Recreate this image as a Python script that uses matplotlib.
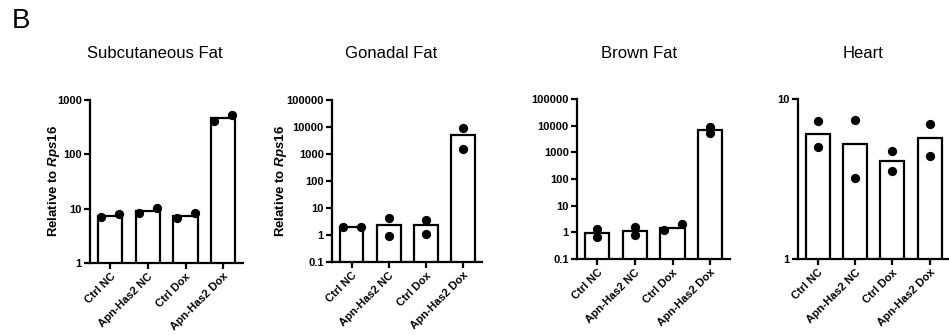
import numpy as np
import matplotlib.pyplot as plt

plt.rcParams['font.family'] = ['Liberation Sans', 'DejaVu Sans']
plt.rcParams['mathtext.fontset'] = 'custom'
plt.rcParams['mathtext.it'] = 'Liberation Sans:bold:italic'
plt.rcParams['mathtext.rm'] = 'Liberation Sans:bold'

# Data
groups = ["Ctrl NC", "Apn-Has2 NC", "Ctrl Dox", "Apn-Has2 Dox"]
titles = ["Subcutaneous Fat", "Gonadal Fat", "Brown Fat", "Heart"]

subq_bars = [7.3, 9.1, 7.2, 465]
subq_pts = [[7.0, 8.0], [8.5, 10.1], [6.6, 8.2], [412, 525]]

gonadal_bars = [1.9, 2.4, 2.3, 5200]
gonadal_pts = [[2.0, 2.0], [4.2, 0.94], [3.7, 1.05], [8900, 1480]]

brown_bars = [0.95, 1.12, 1.45, 6800]
brown_pts = [[1.3, 0.65], [1.6, 0.8], [1.22, 2.0], [9300, 5200]]

heart_bars = [6.0, 5.2, 4.1, 5.7]
heart_pts = [[7.3, 5.0], [7.4, 3.2], [4.75, 3.55], [7.0, 4.4]]

bars_all = [subq_bars, gonadal_bars, brown_bars, heart_bars]
pts_all = [subq_pts, gonadal_pts, brown_pts, heart_pts]
ylims = [(1, 1000), (0.1, 100000), (0.1, 100000), (1, 10)]
yticks = [[1, 10, 100, 1000],
          [0.1, 1, 10, 100, 1000, 10000, 100000],
          [0.1, 1, 10, 100, 1000, 10000, 100000],
          [1, 10]]
ytick_labels = [["1", "10", "100", "1000"],
                ["0.1", "1", "10", "100", "1000", "10000", "100000"],
                ["0.1", "1", "10", "100", "1000", "10000", "100000"],
                ["1", "10"]]

W, H = 949, 335
fig = plt.figure(figsize=(W / 100, H / 100), dpi=100)

# axes boxes in pixels: left, right, top, bottom
boxes = [(90, 243, 100, 263), (332, 482, 100, 262),
         (577, 730, 99, 259), (798, 949, 99, 259)]
title_x = [155, 391, 639, 863]
ylabel_x = [62, 289]

x = np.arange(len(groups))
for i in range(4):
    l, r, t, b = boxes[i]
    ax = fig.add_axes([l / W, 1 - b / H, (r - l) / W, (b - t) / H])
    ax.set_yscale('log')
    ax.set_ylim(*ylims[i])
    ax.set_xlim(-0.53, 3.52)
    ax.bar(x, bars_all[i], width=0.64, color='white', edgecolor='black',
           linewidth=1.6, zorder=2)

    # spread dots sideways when they would overlap (like Prism scatter)
    fig.canvas.draw()
    for j, pair in enumerate(pts_all[i]):
        py = [ax.transData.transform((0, v))[1] for v in pair]
        if abs(py[0] - py[1]) < 6.5:
            xs = [j - 0.24, j + 0.24]
        else:
            xs = [j, j]
        ax.scatter(xs, pair, s=32, color='black', zorder=3, clip_on=False)

    for s in ['top', 'right']:
        ax.spines[s].set_visible(False)
    for s in ['left', 'bottom']:
        ax.spines[s].set_linewidth(1.6)
    ax.set_yticks(yticks[i])
    ax.set_yticklabels(ytick_labels[i], fontsize=8, fontweight='bold')
    ax.yaxis.set_minor_locator(plt.NullLocator())
    ax.set_xticks(x)
    ax.set_xticklabels(groups, rotation=45, ha='right', rotation_mode='anchor',
                       fontsize=8, fontweight='bold')
    ax.tick_params(width=1.6, length=4, pad=2)
    if i < 2:
        ax.set_ylabel(r"Relative to $\mathit{Rps16}$", fontsize=9.5,
                      fontweight='bold')
        ax.yaxis.set_label_coords((ylabel_x[i] - l) / (r - l), 0.5)
    fig.text(title_x[i] / W, 1 - 53 / H, titles[i], ha='center', va='center',
             fontsize=12)

fig.text(12 / W, 1 - 28 / H, "B", fontsize=20, va='baseline')

fig.savefig("out.png", dpi=100)
